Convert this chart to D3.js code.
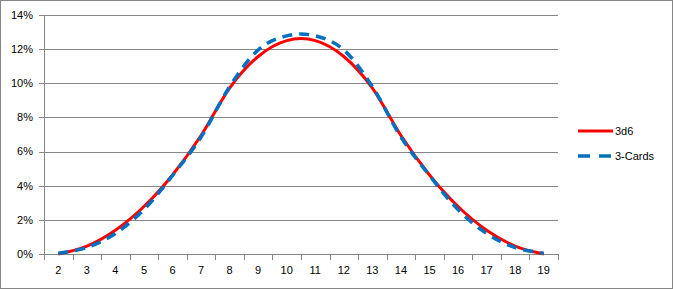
<!DOCTYPE html>
<html>
<head>
<meta charset="utf-8">
<script src="https://cdn.jsdelivr.net/npm/d3@7"></script>
<style>
body { margin: 0; background: #fff; }
svg { display: block; font-family: "Liberation Sans", Arial, sans-serif; }
</style>
</head>
<body>
<svg id="chart" width="673" height="289"></svg>
<script>
// categories on the x axis
var sums = [2, 3, 4, 5, 6, 7, 8, 9, 10, 11, 12, 13, 14, 15, 16, 17, 18, 19];
// percentages
var dice = [0, 0.46, 1.39, 2.78, 4.63, 6.94, 9.72, 11.57, 12.5, 12.5, 11.57, 9.72, 6.94, 4.63, 2.78, 1.39, 0.46, 0];
var cards = [0.05, 0.38, 1.2, 2.6, 4.6, 6.85, 9.8, 11.95, 12.78, 12.78, 11.95, 9.8, 6.85, 4.6, 2.6, 1.2, 0.38, 0.05];
var yTicks = [0, 2, 4, 6, 8, 10, 12, 14];
var seriesNames = ["3d6", "3-Cards"];

var svg = d3.select("#chart");
// plot area edges (note: "top" is taken by window.top)
var plotLeft = 44, plotRight = 558, plotTop = 15, plotBottom = 254;
var gridColor = "#868686";

svg.append("rect")
	.attr("x", 0.5).attr("y", 0.5)
	.attr("width", 672).attr("height", 288)
	.attr("fill", "#fff")
	.attr("stroke", gridColor);

var x = d3.scaleBand().domain(sums).range([plotLeft, plotRight]);
var y = d3.scaleLinear().domain([0, 14]).range([plotBottom, plotTop]);

// horizontal grid
svg.append("g").selectAll("line").data(yTicks).enter().append("line")
	.attr("x1", plotLeft - 5).attr("x2", plotRight)
	.attr("y1", function(d){ return Math.round(y(d)) + 0.5; })
	.attr("y2", function(d){ return Math.round(y(d)) + 0.5; })
	.attr("stroke", gridColor);

// y axis line
svg.append("line")
	.attr("x1", plotLeft + 0.5).attr("x2", plotLeft + 0.5)
	.attr("y1", Math.round(y(14)) + 0.5).attr("y2", plotBottom + 0.5)
	.attr("stroke", gridColor);

svg.append("g").selectAll("text").data(yTicks).enter().append("text")
	.attr("x", 33)
	.attr("y", function(d){ return y(d); })
	.attr("dy", "0.35em")
	.attr("text-anchor", "end")
	.attr("font-size", 11)
	.attr("fill", "#000")
	.text(function(d){ return d + "%"; });

// x tick marks between categories
var tickPos = sums.map(function(d){ return x(d); }).concat([plotRight]);
svg.append("g").selectAll("line").data(tickPos).enter().append("line")
	.attr("x1", function(d){ return Math.round(d) + 0.5; })
	.attr("x2", function(d){ return Math.round(d) + 0.5; })
	.attr("y1", plotBottom).attr("y2", plotBottom + 6)
	.attr("stroke", gridColor);

svg.append("g").selectAll("text").data(sums).enter().append("text")
	.attr("x", function(d){ return x(d) + x.bandwidth() / 2; })
	.attr("y", 274)
	.attr("text-anchor", "middle")
	.attr("font-size", 11)
	.attr("fill", "#000")
	.text(function(d){ return d; });

var line = d3.line()
	.x(function(d, i){ return x(sums[i]) + x.bandwidth() / 2; })
	.y(function(d){ return y(d); })
	.curve(d3.curveCatmullRom.alpha(0));

svg.append("path")
	.datum(dice)
	.attr("d", line)
	.attr("fill", "none")
	.attr("stroke", "#ff0000")
	.attr("stroke-width", 3);

svg.append("path")
	.datum(cards)
	.attr("d", line)
	.attr("fill", "none")
	.attr("stroke", "#0070c0")
	.attr("stroke-width", 3.5)
	.attr("stroke-dasharray", "10,7");

// legend
var legend = svg.append("g");
legend.append("line")
	.attr("x1", 578).attr("x2", 613).attr("y1", 131).attr("y2", 131)
	.attr("stroke", "#ff0000").attr("stroke-width", 3);
legend.append("line")
	.attr("x1", 578).attr("x2", 613).attr("y1", 156).attr("y2", 156)
	.attr("stroke", "#0070c0").attr("stroke-width", 3.5)
	.attr("stroke-dasharray", "12,9");
legend.selectAll("text").data(seriesNames).enter().append("text")
	.attr("x", 615)
	.attr("y", function(d, i){ return 131 + i * 25; })
	.attr("dy", "0.35em")
	.attr("font-size", 11)
	.attr("fill", "#000")
	.text(function(d){ return d; });
</script>
</body>
</html>
